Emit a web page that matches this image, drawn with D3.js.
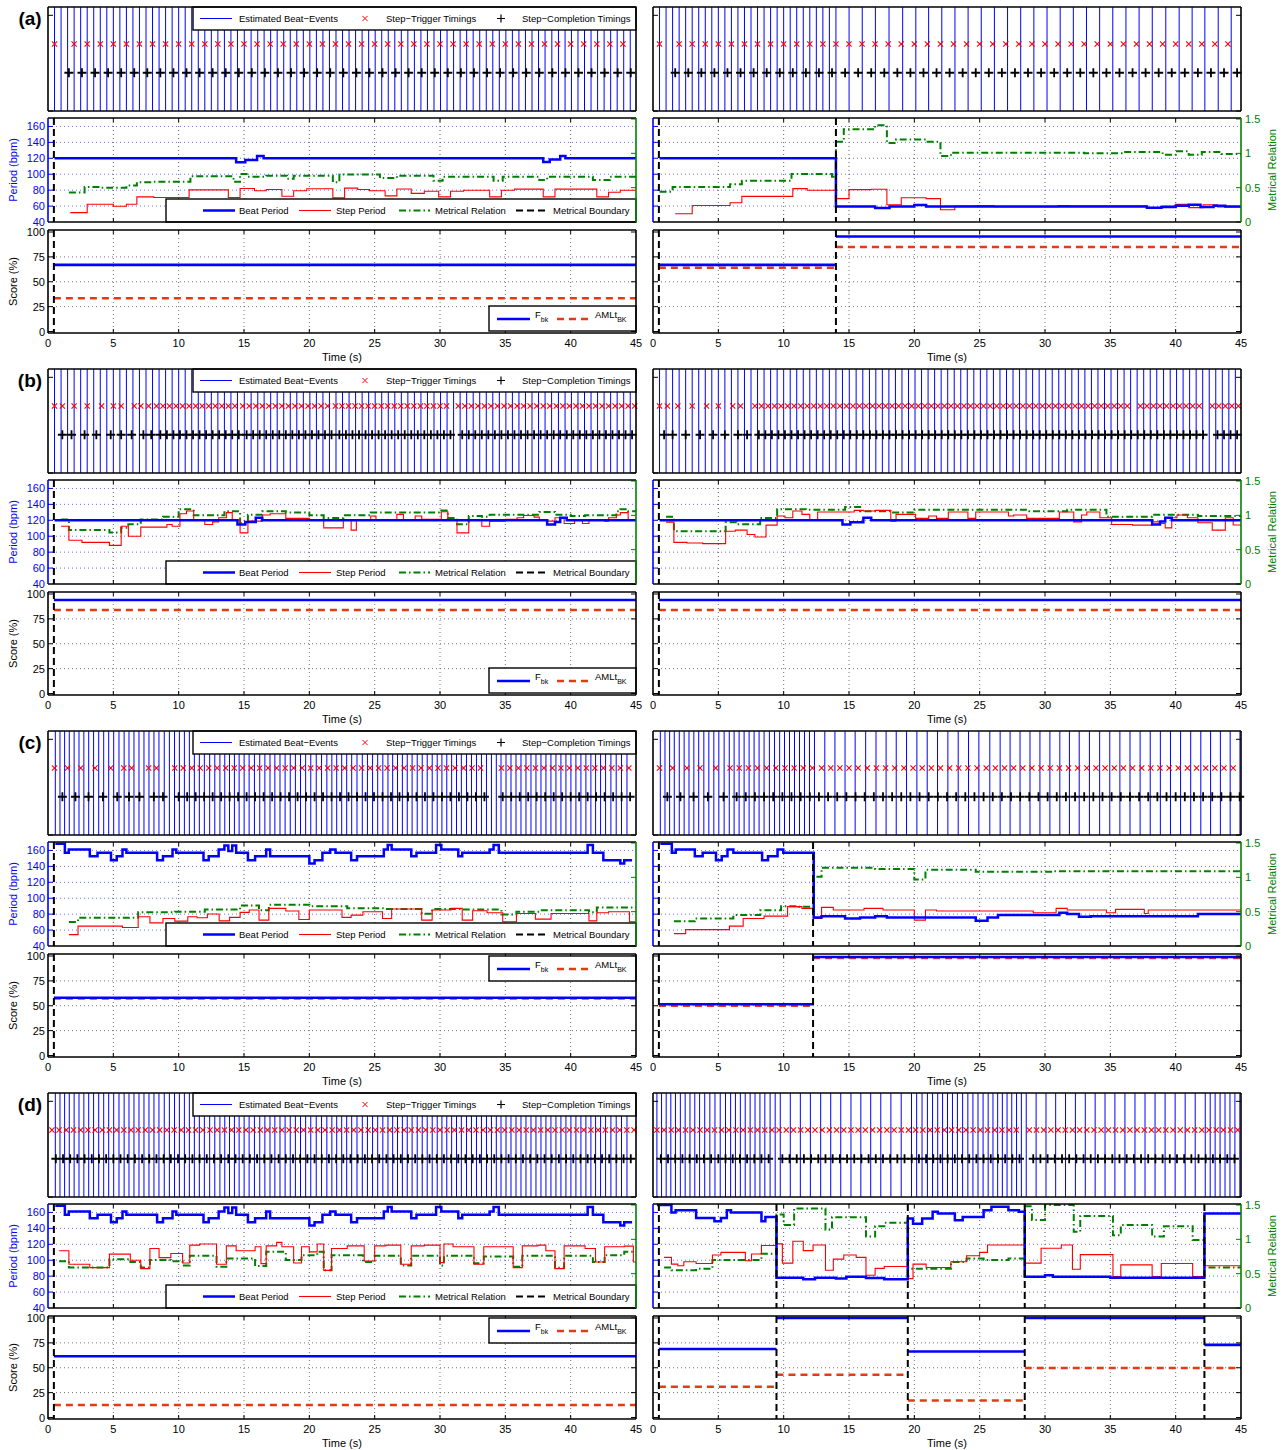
<!DOCTYPE html>
<html>
<head>
<meta charset="utf-8">
<script src="https://cdn.jsdelivr.net/npm/d3@7"></script>
<style>
  body { margin: 0; background: #fff; }
  svg { font-family: "Liberation Sans", Arial, sans-serif; }
</style>
</head>
<body>
<div id="chart"></div>
<script>
// ---------- data ----------
// step series: [time (s), value] held until the next time; last entry marks the end
// beat period / step period in bpm, metrical relation on the 0..1.5 right axis
// scores: one value per segment between metrical boundaries
// marks: runs [from, to, spacing] of step-trigger / step-completion times

const timeTicks = [0, 5, 10, 15, 20, 25, 30, 35, 40, 45];
const periodTicks = [40, 60, 80, 100, 120, 140, 160];
const relationTicks = [0, 0.5, 1, 1.5];
const scoreTicks = [0, 25, 50, 75, 100];
const rowLabels = ["(a)", "(b)", "(c)", "(d)"];

// ----- (a) -----
const beatA_L = [[0.5,120],[14.4,115],[15.1,118],[16.0,123],[16.5,120],[37.9,115.5],[38.4,118.5],[39.2,123],[39.6,120],[45,120]];
const stepA_L = [[1.7,51.8],[3.0,62.3],[5.0,59.8],[6.0,62.3],[6.8,71.5],[8.1,70.8],[10.8,80.4],[13.8,70.7],[14.7,82.1],[15.8,79.2],[16.7,80.8],[17.9,72.4],[18.8,79.2],[19.8,81.7],[21.8,70.3],[22.7,82.5],[23.7,80.8],[24.6,79.2],[25.8,72.8],[26.7,81.5],[27.8,76],[28.8,78.6],[29.9,71.6],[30.8,78.6],[31.8,79.8],[33.8,71.6],[34.7,79.8],[35.7,81.3],[37.9,71.6],[38.8,81.3],[42.0,71.6],[42.9,77.3],[43.8,79.8],[45,79.8]];
const relA_L = [[1.6,0.43],[2.8,0.51],[4.0,0.50],[6.0,0.53],[6.8,0.58],[8.1,0.585],[10.9,0.667],[14.2,0.585],[14.7,0.70],[15.2,0.66],[16.7,0.675],[18.3,0.63],[18.8,0.675],[21.8,0.58],[22.3,0.69],[25.4,0.64],[26.7,0.675],[29.5,0.60],[30.2,0.66],[34.1,0.60],[34.8,0.66],[37.6,0.61],[38.2,0.66],[41.7,0.61],[43,0.66],[45,0.66]];
const trigA_L = [[0.5,0.5,1],[2.0,44.9,1.0]];
const compA_L = [[1.6,44.9,1.0]];
const boundsA_L = [0.45, 45];
const fA_L = [67];
const amlA_L = [33.5];

const beatA_R = [[0.5,120],[14.0,59.6],[17.0,57.5],[18.1,59.6],[20.0,61.2],[20.9,59.6],[37.8,57.9],[38.9,58.7],[40.0,60.4],[41.0,61.6],[41.9,58.7],[42.9,60.4],[43.8,59.6],[45,59.6]];
const stepA_R = [[1.7,50.4],[3.0,60.8],[5.9,64.2],[6.8,72.2],[10.7,81.9],[11.8,79.8],[14.0,69.3],[15.0,80.7],[16.7,81.1],[17.9,61.7],[19.0,70.5],[20.9,69.3],[22.0,55.4],[23.1,60],[24.7,60.8],[26.1,59.2],[31.0,60.8],[31.9,60],[37.8,57.5],[39.0,60],[40.0,62.1],[41.0,58],[42.1,61.7],[43.2,58.8],[45,58.8]];
const relA_R = [[0.5,0.44],[1.5,0.51],[5.9,0.55],[6.8,0.60],[10.6,0.70],[13.7,0.66],[14.0,1.17],[14.6,1.35],[17.0,1.41],[17.9,1.15],[18.6,1.2],[20.9,1.17],[22.0,0.96],[22.8,1.01],[33,1.0],[36,1.02],[39,0.98],[40,1.03],[41,0.98],[42,1.02],[43.5,0.99],[45,0.99]];
const trigA_R = [[0.5,0.5,1],[2.0,44.1,1.0]];
const compA_R = [[1.7,44.7,1.0]];
const boundsA_R = [0.45, 14.0, 45];
const fA_R = [67, 95.5];
const amlA_R = [64, 85];

// ----- (b) -----
const beatB_L = [[0.5,120],[14.5,114.8],[15.1,118],[15.9,123.2],[16.4,120],[38.2,114.8],[38.8,118],[39.2,123.2],[39.7,120],[45,120]];
const stepB_L = [[1.0,112.6],[1.6,94.9],[2.6,92.3],[4.7,88.5],[5.6,112.6],[6.15,100],[7.1,111.4],[9.1,114.8],[9.5,112.6],[10.1,128.3],[10.6,131.7],[11.15,120],[12.0,114.8],[12.6,118],[13.06,123.2],[13.65,129.6],[14.1,120],[14.7,104.2],[15.3,119],[16.4,126.6],[17.0,128.3],[18.2,122.4],[20.0,120],[21.1,110.5],[22.6,120],[23.2,107.6],[23.6,120],[24.7,125.3],[25.1,120],[26.7,127.4],[27.2,120],[28.1,125.3],[28.6,121.3],[30.1,130.8],[30.6,120],[31.3,104.2],[32.2,120],[33.2,112.6],[33.8,119],[35.0,121.3],[35.9,123.2],[36.4,126.1],[37.2,124],[37.6,120],[38.2,119],[38.8,123.2],[39.5,116],[40.3,120],[40.9,116],[41.4,120],[42.6,119],[42.9,123.2],[43.5,126.6],[43.8,129.6],[44.4,120],[45,120]];
const relB_L = [[1.0,0.94],[1.6,0.785],[4.7,0.75],[5.6,0.82],[6.15,0.87],[7.1,0.94],[8.8,0.98],[10.0,1.09],[11.15,1.0],[13.5,1.06],[14.7,0.89],[15.3,1.01],[16.4,1.06],[18.2,1.04],[20.0,1.0],[21.1,0.96],[22.6,1.0],[24.7,1.04],[30.1,1.07],[30.6,0.96],[31.3,0.87],[32.2,0.99],[33.2,0.98],[33.8,1.01],[37.6,1.05],[38.8,1.01],[40.0,0.99],[41.1,1.0],[43.5,1.06],[43.8,1.09],[44.4,1.06],[45,1.06]];
const trigB_L = [[0.5,0.5,1],[1.1,1.1,1],[2.0,2.0,1],[3.0,3.0,1],[4.1,4.1,1],[5.0,5.0,1],[5.6,5.6,1],[6.6,6.6,1],[7.1,7.1,1],[7.7,7.7,1],[8.3,14.3,0.5],[14.9,21.4,0.5],[22.0,30.8,0.5],[31.4,44.9,0.5]];
const compB_L = [[1.1,1.1,1],[1.8,1.8,1],[2.8,2.8,1],[3.7,3.7,1],[4.8,4.8,1],[5.6,5.6,1],[6.4,6.4,1],[7.3,7.3,1],[7.9,7.9,1],[8.6,14.6,0.5],[15.2,21.7,0.5],[22.3,31.1,0.5],[31.7,44.7,0.5]];
const boundsB_L = [0.45, 45];
const fB_L = [94];
const amlB_L = [84];

const beatB_R = [[0.5,120],[14.5,114.8],[15.1,117.6],[16.1,123.2],[16.7,120],[38.2,114.8],[38.8,118.5],[39.2,123.2],[39.7,120],[45,120]];
const stepB_R = [[1.0,117.7],[1.6,92.3],[2.6,91.5],[3.8,90.7],[5.56,106.3],[6.3,107.6],[7.2,102.1],[7.8,99.1],[8.65,113.9],[9.5,125.3],[10.1,123.2],[10.7,131.7],[11.4,127.4],[12.0,120],[12.6,130.4],[15.4,132.5],[16.1,131.7],[17.0,132.5],[18.2,119],[18.6,127.4],[20.1,122.4],[21.1,125.3],[21.7,122.4],[22.6,130.4],[24.1,122.4],[24.7,130.4],[27.2,125.3],[27.6,126.6],[28.6,122.4],[31.1,130.4],[32.2,118],[32.8,126.6],[33.2,130.4],[34.2,123.2],[35.1,114.8],[36.7,113.9],[38.2,118],[38.8,116],[39.2,110.5],[39.7,123.2],[40.1,126.6],[40.9,123.2],[41.7,117],[42.8,107.6],[43.8,123.2],[44.4,114],[45,114]];
const relB_R = [[1.0,0.98],[1.6,0.77],[5.56,0.9],[6.4,0.87],[8.2,0.96],[9.5,1.09],[11.7,1.08],[14.7,1.12],[15.85,1.06],[18.2,1.04],[20.0,1.08],[28.8,1.06],[31.7,1.08],[34.7,0.98],[38.2,1.01],[41.7,0.99],[45,0.99]];
const trigB_R = [[0.5,0.5,1],[1.1,1.1,1],[1.9,1.9,1],[3.0,3.0,1],[4.1,4.1,1],[5.0,5.0,1],[6.1,6.1,1],[6.7,6.7,1],[7.8,36.7,0.5],[37.3,42.2,0.5],[42.8,44.9,0.5]];
const compB_R = [[0.85,0.85,1],[1.5,1.5,1],[2.5,2.5,1],[3.6,3.6,1],[4.6,4.6,1],[5.5,5.5,1],[6.5,6.5,1],[7.2,7.2,1],[8.1,42.5,0.5],[43.2,44.8,0.5]];
const boundsB_R = [0.45, 45];
const fB_R = [94];
const amlB_R = [84];

// ----- (c) -----
const beatCD_L = [[0.56,168.5],[1.29,157],[1.59,161.3],[3.2,152.8],[3.79,157],[4.82,147.7],[5.26,152.8],[5.7,161.3],[6.0,157],[8.35,147.7],[8.8,152.8],[9.53,161.3],[9.82,157],[11.9,147.7],[12.3,152.8],[13.06,161.3],[13.5,166.3],[13.8,159.2],[14.1,166.3],[14.4,157],[15.3,147.7],[15.85,152.8],[16.7,161.3],[17.0,152.8],[20.0,143.5],[20.4,147.7],[21.0,157],[21.6,161.3],[22.0,157],[23.2,147.7],[23.65,152.8],[25.7,161.3],[26.0,166.8],[26.3,161.3],[27.8,152.8],[28.2,157],[29.7,166.8],[30.1,161.3],[31.4,152.8],[31.7,157],[33.8,161.3],[34.1,166.8],[34.5,157],[41.3,166.8],[41.7,157],[42.5,147.7],[43.8,143.5],[44.1,147.7],[44.7,147.7]];
const stepC_L = [[1.6,54.3],[2.3,64.9],[5.7,63.2],[6.9,76.7],[7.8,69.1],[8.8,74.6],[9.7,71.2],[10.7,76.7],[11.4,75.4],[12.2,80.1],[13.1,71.6],[13.9,75.9],[14.7,82.2],[15.4,85.2],[16.15,72.5],[16.9,87.3],[18.2,83.9],[19.2,73.3],[20.0,85.2],[22.5,75.9],[23.2,78.8],[24.1,83.0],[25.6,74.6],[26.3,86.4],[28.6,72.5],[29.4,85.2],[30.85,87.3],[31.7,72.5],[32.5,84.3],[33.6,81.8],[34.8,70.4],[35.85,80.9],[37.3,73.7],[38.5,80.9],[41.4,71.6],[42.0,81.8],[42.9,83.0],[44.5,70.4],[45,70.4]];
const relC_L = [[1.6,0.35],[2.3,0.41],[6.9,0.49],[9.7,0.50],[12.0,0.53],[14.7,0.59],[16.15,0.52],[16.9,0.60],[20.0,0.58],[22.9,0.55],[25.85,0.54],[28.6,0.47],[29.4,0.54],[31.7,0.53],[34.7,0.46],[35.85,0.50],[37.6,0.52],[41.4,0.49],[42.0,0.56],[45,0.56]];
const trigC_L = [[0.5,0.5,1],[1.5,1.5,1],[2.5,2.5,1],[3.6,3.6,1],[4.8,4.8,1],[5.8,5.8,1],[6.4,6.4,1],[7.7,7.7,1],[8.3,8.3,1],[9.7,33.7,0.65],[34.7,44.9,0.65]];
const compC_L = [[1.1,1.1,1],[2.1,2.1,1],[3.1,3.1,1],[4.2,4.2,1],[5.3,5.3,1],[6.2,6.2,1],[7.0,7.0,1],[8.1,8.1,1],[8.8,8.8,1],[10.0,33.8,0.65],[34.8,44.8,0.65]];
const boundsC_L = [0.45, 45];
const fC_L = [58];
const amlC_L = [57.3];

const beatC_R = [[0.56,168.5],[1.44,157],[1.74,161.3],[3.2,152.8],[3.8,157],[4.82,147.7],[5.26,152.8],[5.7,161.3],[6.15,157],[8.35,147.7],[8.8,152.8],[9.53,161.3],[9.97,157],[12.3,75.9],[12.9,77.5],[14.7,74.6],[15.85,75.9],[17.0,77.5],[17.9,75.9],[24.7,71.6],[25.6,75.9],[26.4,78.8],[31.1,81.8],[31.7,80.1],[32.6,76.7],[33.5,77.5],[41.7,80.1],[45,80.1]];
const stepC_R = [[1.6,55.6],[2.5,60.6],[5.85,64.9],[6.9,74.6],[8.5,77.5],[10.3,89.4],[11.4,87.3],[12.3,74.6],[12.9,88.5],[13.8,85.2],[16.15,87.3],[17.6,85.2],[20.0,72.5],[20.85,85.2],[21.7,83.9],[29.1,81.8],[30.85,87.3],[31.7,85.2],[34.7,81.8],[35.4,86],[37.6,80.9],[37.9,85.2],[45,85.2]];
const relC_R = [[1.6,0.36],[3.2,0.40],[6.15,0.45],[8.2,0.52],[9.8,0.58],[11.15,0.57],[12.3,1.01],[12.9,1.14],[17.0,1.12],[20.0,0.97],[20.85,1.11],[24.7,1.08],[30.6,1.09],[45,1.09]];
const trigC_R = [[0.5,0.5,1],[1.5,1.5,1],[2.6,2.6,1],[3.6,3.6,1],[4.8,4.8,1],[5.9,44.9,0.7]];
const compC_R = [[1.1,1.1,1],[2.1,2.1,1],[3.1,3.1,1],[4.2,4.2,1],[5.4,5.4,1],[6.4,44.9,0.7]];
const boundsC_R = [0.45, 12.25, 45];
const fC_R = [51.5, 99];
const amlC_R = [50, 98];

// ----- (d) -----
const stepD_L = [[0.85,111.8],[1.6,94.9],[3.2,90.7],[4.7,107.6],[6.3,100],[7.1,89.4],[7.8,114.8],[8.5,103.3],[9.4,108.4],[10.3,96.6],[10.85,119],[11.6,120.3],[12.9,94.9],[13.65,118],[14.4,111.8],[15.85,116.9],[16.3,95.7],[16.7,118],[17.5,122.4],[17.9,116.9],[18.8,96.6],[19.4,116.9],[20.0,110.5],[20.6,120.3],[21.1,87.3],[21.7,114.8],[22.9,118],[24.2,99.1],[25.0,118],[25.85,119],[27.0,94.9],[27.8,118],[28.8,119],[30.0,97],[30.3,120.3],[31.0,116.9],[32.6,94.9],[33.35,116.9],[35.6,90.7],[36.3,118],[37.5,119],[38.1,111.8],[38.8,89.4],[39.5,118],[41.1,114.8],[41.9,97.8],[42.6,116.9],[44.1,117.7],[44.8,97.8],[45,97.8]];
const relD_L = [[0.85,0.68],[1.6,0.59],[4.7,0.71],[6.3,0.67],[7.1,0.59],[7.8,0.70],[9.4,0.68],[10.3,0.62],[10.85,0.76],[12.9,0.60],[13.65,0.72],[15.85,0.61],[16.7,0.82],[18.2,0.70],[19.4,0.77],[20.6,0.82],[21.1,0.55],[21.7,0.77],[24.1,0.67],[25.0,0.76],[27.0,0.62],[27.8,0.76],[30.0,0.62],[30.3,0.76],[32.6,0.65],[33.35,0.75],[35.6,0.60],[36.3,0.76],[38.8,0.585],[39.5,0.76],[41.7,0.67],[42.6,0.77],[44.1,0.82],[45,0.82]];
const trigD_L = [[0.3,44.9,0.55]];
const compD_L = [[0.6,44.9,0.55]];
const boundsD_L = [0.45, 45];
const fD_L = [61.5];
const amlD_L = [12.5];

const beatD_R = [[0.3,169.2],[1.41,160],[1.73,162.9],[3.3,153.1],[4.7,148.9],[5.2,153.1],[5.65,162.9],[5.97,160],[8.3,148.9],[8.6,154.4],[9.45,78.1],[11.5,76],[12.4,78.1],[14.0,76.9],[14.8,79.4],[16.3,77.7],[17.7,76],[19.5,152.3],[19.9,145.9],[20.6,152.3],[21.4,160.8],[21.8,158.6],[23.1,150.2],[23.7,154.4],[25.3,162.9],[25.9,167.1],[27.2,162.9],[28.0,160.8],[28.45,79.4],[30.0,81.1],[30.6,79.4],[35.0,78.1],[42.2,158.6],[45,158.6]];
const stepD_R = [[0.85,103.6],[1.41,95.1],[1.9,93],[2.36,98],[3.3,95.9],[4.55,106.5],[5.2,109.9],[7.07,99.3],[7.54,107.8],[8.3,118.4],[9.45,120.5],[9.9,96.4],[10.7,123.9],[11.5,112],[12.25,119.2],[13.2,87.5],[13.8,101.4],[14.6,106.5],[15.55,103.6],[16.3,81.1],[17.0,89.7],[17.7,92.1],[19.5,76.9],[19.9,95.1],[20.9,90.8],[22.8,98],[24.0,105.7],[25.0,109.9],[25.6,119.2],[28.45,96.4],[29.7,115],[31.25,119.2],[32.1,88.7],[32.7,107],[35.2,79.4],[35.8,94.2],[38.2,79.4],[38.9,95.9],[41.3,79.4],[42.2,93],[45,93]];
const relD_R = [[0.85,0.59],[1.41,0.55],[3.3,0.57],[4.55,0.70],[8.3,0.79],[9.45,1.36],[10.0,1.21],[10.8,1.45],[13.2,1.14],[13.7,1.32],[16.3,1.04],[17.0,1.19],[17.7,1.24],[19.5,0.57],[22.8,0.67],[24.0,0.72],[25.3,0.70],[27.2,0.72],[28.45,1.48],[29.0,1.28],[30.0,1.5],[32.2,1.11],[32.7,1.34],[35.2,1.06],[35.8,1.21],[38.2,1.04],[39.1,1.19],[41.3,0.99],[42.2,0.59],[45,0.59]];
const trigD_R = [[0.3,28.0,0.55],[28.8,44.9,0.55]];
const compD_R = [[0.6,9.2,0.55],[9.9,28.2,0.55],[29.1,44.9,0.55]];
const boundsD_R = [0.45, 9.45, 19.5, 28.45, 42.2, 45];
const fD_R = [68.8, 100, 66.4, 100, 73];
const amlD_R = [30.9, 43, 17, 49.7, 49.7];

// ---------- assemble ----------
const rows = [
  { label: rowLabels[0], scoreLegendTop: false, cols: [
    { beat: beatA_L, step: stepA_L, rel: relA_L, trig: trigA_L, comp: compA_L, bounds: boundsA_L, f: fA_L, aml: amlA_L },
    { beat: beatA_R, step: stepA_R, rel: relA_R, trig: trigA_R, comp: compA_R, bounds: boundsA_R, f: fA_R, aml: amlA_R }] },
  { label: rowLabels[1], scoreLegendTop: false, cols: [
    { beat: beatB_L, step: stepB_L, rel: relB_L, trig: trigB_L, comp: compB_L, bounds: boundsB_L, f: fB_L, aml: amlB_L },
    { beat: beatB_R, step: stepB_R, rel: relB_R, trig: trigB_R, comp: compB_R, bounds: boundsB_R, f: fB_R, aml: amlB_R }] },
  { label: rowLabels[2], scoreLegendTop: true, cols: [
    { beat: beatCD_L, step: stepC_L, rel: relC_L, trig: trigC_L, comp: compC_L, bounds: boundsC_L, f: fC_L, aml: amlC_L },
    { beat: beatC_R, step: stepC_R, rel: relC_R, trig: trigC_R, comp: compC_R, bounds: boundsC_R, f: fC_R, aml: amlC_R }] },
  { label: rowLabels[3], scoreLegendTop: true, cols: [
    { beat: beatCD_L, step: stepD_L, rel: relD_L, trig: trigD_L, comp: compD_L, bounds: boundsD_L, f: fD_L, aml: amlD_L },
    { beat: beatD_R, step: stepD_R, rel: relD_R, trig: trigD_R, comp: compD_R, bounds: boundsD_R, f: fD_R, aml: amlD_R }] }
];

// ---------- layout ----------
const W = 1283, H = 1450;
const rowTop = [7, 369, 731, 1093];
const colX = [[48, 636], [653, 1241]];
const BLUE = "#0000ff", RED = "#ff0000", GREEN = "#008000", ORANGE = "#e23c16";

const svg = d3.select("#chart").append("svg")
  .attr("width", W).attr("height", H);

// value of a step series at time t
function valueAt(series, t) {
  let v = series[0][1];
  for (const d of series) { if (d[0] <= t) v = d[1]; else break; }
  return v;
}
// beat events follow the beat period series (one event per beat)
function beatTimes(series) {
  const out = [];
  let t = series[0][0];
  const end = series[series.length - 1][0];
  while (t <= end + 1e-6) { out.push(t); t += 60 / valueAt(series, t); }
  return out;
}
function expand(runs) {
  const out = [];
  runs.forEach(([a, b, s]) => { for (let t = a; t <= b + 1e-6; t += s) out.push(t); });
  return out;
}

function frame(g, x0, x1, y0, y1, colors) {
  const c = colors || {};
  g.append("line").attr("x1", x0).attr("x2", x1).attr("y1", y0).attr("y2", y0).attr("stroke", c.top || "#000").attr("stroke-width", 1.6);
  g.append("line").attr("x1", x0).attr("x2", x1).attr("y1", y1).attr("y2", y1).attr("stroke", c.bottom || "#000").attr("stroke-width", 1.6);
  g.append("line").attr("x1", x0).attr("x2", x0).attr("y1", y0).attr("y2", y1).attr("stroke", c.left || "#000").attr("stroke-width", 1.6);
  g.append("line").attr("x1", x1).attr("x2", x1).attr("y1", y0).attr("y2", y1).attr("stroke", c.right || "#000").attr("stroke-width", 1.6);
}

function xTicksInward(g, x, y0, y1) {
  timeTicks.slice(1, -1).forEach(t => {
    g.append("line").attr("x1", x(t)).attr("x2", x(t)).attr("y1", y1).attr("y2", y1 - 4).attr("stroke", "#000");
    g.append("line").attr("x1", x(t)).attr("x2", x(t)).attr("y1", y0).attr("y2", y0 + 4).attr("stroke", "#000");
  });
}

rows.forEach((row, ri) => {
  const top = rowTop[ri];
  svg.append("text").attr("x", 30).attr("y", top + 18)
    .attr("text-anchor", "middle").attr("font-weight", "bold").attr("font-size", 19)
    .text(row.label);

  row.cols.forEach((c, ci) => {
    const [x0, x1] = colX[ci];
    const left = ci === 0;
    const x = d3.scaleLinear().domain([0, 45]).range([x0, x1]);

    // ===== beat-event panel =====
    const bT = top, bB = top + 104;
    const gb = svg.append("g");
    const yb = d3.scaleLinear().domain([0, 1.087]).range([bB, bT]);
    gb.append("g").selectAll("line").data(beatTimes(c.beat)).join("line")
      .attr("x1", d => x(d)).attr("x2", d => x(d))
      .attr("y1", bT).attr("y2", bB)
      .attr("stroke", BLUE).attr("stroke-width", 1);
    gb.append("g").selectAll("path").data(expand(c.trig)).join("path")
      .attr("transform", d => `translate(${x(d)},${yb(0.7)})`)
      .attr("d", "M-2.6,-2.6L2.6,2.6M-2.6,2.6L2.6,-2.6")
      .attr("stroke", RED).attr("stroke-width", 1.1).attr("fill", "none");
    gb.append("g").selectAll("path").data(expand(c.comp)).join("path")
      .attr("transform", d => `translate(${x(d)},${yb(0.4)})`)
      .attr("d", "M-4.5,0H4.5M0,-4.5V4.5")
      .attr("stroke", "#000").attr("stroke-width", 1.8).attr("fill", "none");
    [0, 1].forEach(v => {
      gb.append("line").attr("x1", x0).attr("x2", x0 + 5).attr("y1", yb(v)).attr("y2", yb(v)).attr("stroke", "#000");
      gb.append("line").attr("x1", x1).attr("x2", x1 - 5).attr("y1", yb(v)).attr("y2", yb(v)).attr("stroke", "#000");
    });
    if (left) {
      const lg = gb.append("g").attr("transform", `translate(193,${bT})`);
      lg.append("rect").attr("x", 0).attr("y", 0).attr("width", x1 - 193).attr("height", 23)
        .attr("fill", "#fff").attr("stroke", "#000").attr("stroke-width", 1.4);
      lg.append("line").attr("x1", 7).attr("x2", 39).attr("y1", 11.5).attr("y2", 11.5).attr("stroke", BLUE).attr("stroke-width", 1);
      lg.append("text").attr("x", 46).attr("y", 15).attr("font-size", 9.5).text("Estimated Beat\u2212Events");
      lg.append("path").attr("transform", "translate(172,11.5)").attr("d", "M-2.6,-2.6L2.6,2.6M-2.6,2.6L2.6,-2.6").attr("stroke", RED).attr("stroke-width", 1);
      lg.append("text").attr("x", 193).attr("y", 15).attr("font-size", 9.5).text("Step\u2212Trigger Timings");
      lg.append("path").attr("transform", "translate(308,11.5)").attr("d", "M-4,0H4M0,-4V4").attr("stroke", "#000").attr("stroke-width", 1.2);
      lg.append("text").attr("x", 329).attr("y", 15).attr("font-size", 9.5).text("Step\u2212Completion Timings");
    }
    frame(gb, x0, x1, bT, bB);

    // ===== period panel =====
    const pT = top + 111, pB = top + 215;
    const gp = svg.append("g");
    const yp = d3.scaleLinear().domain([40, 170.6]).range([pB, pT]);
    const yr = d3.scaleLinear().domain([0, 1.5]).range([pB, pT + 1]);
    periodTicks.slice(1).forEach(v => {
      gp.append("line").attr("x1", x0).attr("x2", x1).attr("y1", yp(v)).attr("y2", yp(v))
        .attr("stroke", "#4a4aff").attr("stroke-width", 0.8).attr("stroke-dasharray", "1,3");
    });
    timeTicks.slice(1, -1).forEach(t => {
      gp.append("line").attr("x1", x(t)).attr("x2", x(t)).attr("y1", pT).attr("y2", pB)
        .attr("stroke", "#333").attr("stroke-width", 0.8).attr("stroke-dasharray", "1,3");
    });
    const lp = d3.line().x(d => x(d[0])).y(d => yp(d[1])).curve(d3.curveStepAfter);
    const lr = d3.line().x(d => x(d[0])).y(d => yr(d[1])).curve(d3.curveStepAfter);
    gp.append("path").datum(c.rel).attr("d", lr).attr("fill", "none")
      .attr("stroke", GREEN).attr("stroke-width", 2).attr("stroke-dasharray", "7,3,1.5,3");
    gp.append("path").datum(c.step).attr("d", lp).attr("fill", "none")
      .attr("stroke", RED).attr("stroke-width", 1.1);
    gp.append("path").datum(c.beat).attr("d", lp).attr("fill", "none")
      .attr("stroke", BLUE).attr("stroke-width", 2.5);
    c.bounds.slice(0, -1).forEach(t => {
      gp.append("line").attr("x1", x(t)).attr("x2", x(t)).attr("y1", pT).attr("y2", pB)
        .attr("stroke", "#000").attr("stroke-width", 2).attr("stroke-dasharray", "7,4");
    });
    periodTicks.slice(1).forEach(v => {
      gp.append("line").attr("x1", x0).attr("x2", x0 + 5).attr("y1", yp(v)).attr("y2", yp(v)).attr("stroke", BLUE);
      if (left) gp.append("text").attr("x", x0 - 3).attr("y", yp(v) + 4).attr("text-anchor", "end")
        .attr("font-size", 11).attr("fill", BLUE).text(v);
    });
    if (left) gp.append("text").attr("x", x0 - 3).attr("y", pB + 4).attr("text-anchor", "end")
      .attr("font-size", 11).attr("fill", BLUE).text(40);
    relationTicks.forEach(v => {
      gp.append("line").attr("x1", x1).attr("x2", x1 - 5).attr("y1", yr(v)).attr("y2", yr(v)).attr("stroke", GREEN);
      if (!left) gp.append("text").attr("x", x1 + 4).attr("y", yr(v) + 4)
        .attr("font-size", 11).attr("fill", GREEN).text(v);
    });
    xTicksInward(gp, x, pT, pB);
    if (left) {
      const lg = gp.append("g").attr("transform", `translate(166,${pB - 23})`);
      lg.append("rect").attr("width", x1 - 166).attr("height", 23)
        .attr("fill", "#fff").attr("stroke", "#000").attr("stroke-width", 1.4);
      const ym = 11.5;
      lg.append("line").attr("x1", 37).attr("x2", 69).attr("y1", ym).attr("y2", ym).attr("stroke", BLUE).attr("stroke-width", 2.5);
      lg.append("text").attr("x", 73).attr("y", ym + 3.5).attr("font-size", 9.5).text("Beat Period");
      lg.append("line").attr("x1", 133).attr("x2", 165).attr("y1", ym).attr("y2", ym).attr("stroke", RED).attr("stroke-width", 1.1);
      lg.append("text").attr("x", 170).attr("y", ym + 3.5).attr("font-size", 9.5).text("Step Period");
      lg.append("line").attr("x1", 233).attr("x2", 264).attr("y1", ym).attr("y2", ym).attr("stroke", GREEN).attr("stroke-width", 2).attr("stroke-dasharray", "7,3,1.5,3");
      lg.append("text").attr("x", 269).attr("y", ym + 3.5).attr("font-size", 9.5).text("Metrical Relation");
      lg.append("line").attr("x1", 350).attr("x2", 382).attr("y1", ym).attr("y2", ym).attr("stroke", "#000").attr("stroke-width", 2).attr("stroke-dasharray", "7,4");
      lg.append("text").attr("x", 387).attr("y", ym + 3.5).attr("font-size", 9.5).text("Metrical Boundary");
    }
    frame(gp, x0, x1, pT, pB, { left: BLUE, right: GREEN });
    if (left) {
      svg.append("text").attr("transform", `translate(17,${(pT + pB) / 2}) rotate(-90)`)
        .attr("text-anchor", "middle").attr("font-size", 11).attr("fill", BLUE).text("Period (bpm)");
    } else {
      svg.append("text").attr("transform", `translate(1276,${(pT + pB) / 2}) rotate(-90)`)
        .attr("text-anchor", "middle").attr("font-size", 11).attr("fill", GREEN).text("Metrical Relation");
    }

    // ===== score panel =====
    const sT = top + 223, sB = top + 326;
    const gs = svg.append("g");
    const ys = d3.scaleLinear().domain([0, 100]).range([sB - 1.5, sT + 2]);
    scoreTicks.slice(1, -1).forEach(v => {
      gs.append("line").attr("x1", x0).attr("x2", x1).attr("y1", ys(v)).attr("y2", ys(v))
        .attr("stroke", "#555").attr("stroke-width", 0.8).attr("stroke-dasharray", "1,3");
    });
    timeTicks.slice(1, -1).forEach(t => {
      gs.append("line").attr("x1", x(t)).attr("x2", x(t)).attr("y1", sT).attr("y2", sB)
        .attr("stroke", "#555").attr("stroke-width", 0.8).attr("stroke-dasharray", "1,3");
    });
    const segs = c.f.map((v, i) => ({ a: c.bounds[i], b: c.bounds[i + 1], f: v, aml: c.aml[i] }));
    gs.append("g").selectAll("line").data(segs).join("line")
      .attr("x1", d => x(d.a)).attr("x2", d => x(d.b))
      .attr("y1", d => ys(d.aml)).attr("y2", d => ys(d.aml))
      .attr("stroke", ORANGE).attr("stroke-width", 2.5).attr("stroke-dasharray", "7,5");
    gs.append("g").selectAll("line").data(segs).join("line")
      .attr("x1", d => x(d.a)).attr("x2", d => x(d.b))
      .attr("y1", d => ys(d.f)).attr("y2", d => ys(d.f))
      .attr("stroke", BLUE).attr("stroke-width", 2.6);
    c.bounds.slice(0, -1).forEach(t => {
      gs.append("line").attr("x1", x(t)).attr("x2", x(t)).attr("y1", sT).attr("y2", sB)
        .attr("stroke", "#000").attr("stroke-width", 2).attr("stroke-dasharray", "7,4");
    });
    scoreTicks.forEach(v => {
      gs.append("line").attr("x1", x0).attr("x2", x0 + 5).attr("y1", ys(v)).attr("y2", ys(v)).attr("stroke", "#000");
      gs.append("line").attr("x1", x1).attr("x2", x1 - 5).attr("y1", ys(v)).attr("y2", ys(v)).attr("stroke", "#000");
      if (left) gs.append("text").attr("x", x0 - 3).attr("y", ys(v) + 4).attr("text-anchor", "end")
        .attr("font-size", 11).text(v);
    });
    xTicksInward(gs, x, sT, sB);
    timeTicks.forEach(t => {
      gs.append("text").attr("x", x(t)).attr("y", sB + 14).attr("text-anchor", "middle")
        .attr("font-size", 11).text(t);
    });
    gs.append("text").attr("x", (x0 + x1) / 2).attr("y", sB + 28).attr("text-anchor", "middle")
      .attr("font-size", 11).text("Time (s)");
    if (left) {
      const ly = row.scoreLegendTop ? sT + 2 : sB - 27;
      const lg = gs.append("g").attr("transform", `translate(489,${ly})`);
      lg.append("rect").attr("width", x1 - 489).attr("height", 25)
        .attr("fill", "#fff").attr("stroke", "#000").attr("stroke-width", 1.4);
      lg.append("line").attr("x1", 8).attr("x2", 41).attr("y1", 13).attr("y2", 13).attr("stroke", BLUE).attr("stroke-width", 2.6);
      const t1 = lg.append("text").attr("x", 46).attr("y", 12).attr("font-size", 9.5);
      t1.append("tspan").text("F");
      t1.append("tspan").attr("font-size", 7).attr("dy", 4).text("bk");
      lg.append("line").attr("x1", 68).attr("x2", 101).attr("y1", 13).attr("y2", 13).attr("stroke", ORANGE).attr("stroke-width", 2.5).attr("stroke-dasharray", "7,5");
      const t2 = lg.append("text").attr("x", 106).attr("y", 12).attr("font-size", 9.5);
      t2.append("tspan").text("AMLt");
      t2.append("tspan").attr("font-size", 7).attr("dy", 4).text("BK");
      svg.append("text").attr("transform", `translate(17,${(sT + sB) / 2}) rotate(-90)`)
        .attr("text-anchor", "middle").attr("font-size", 11).text("Score (%)");
    }
    frame(gs, x0, x1, sT, sB);
  });
});
</script>
</body>
</html>
